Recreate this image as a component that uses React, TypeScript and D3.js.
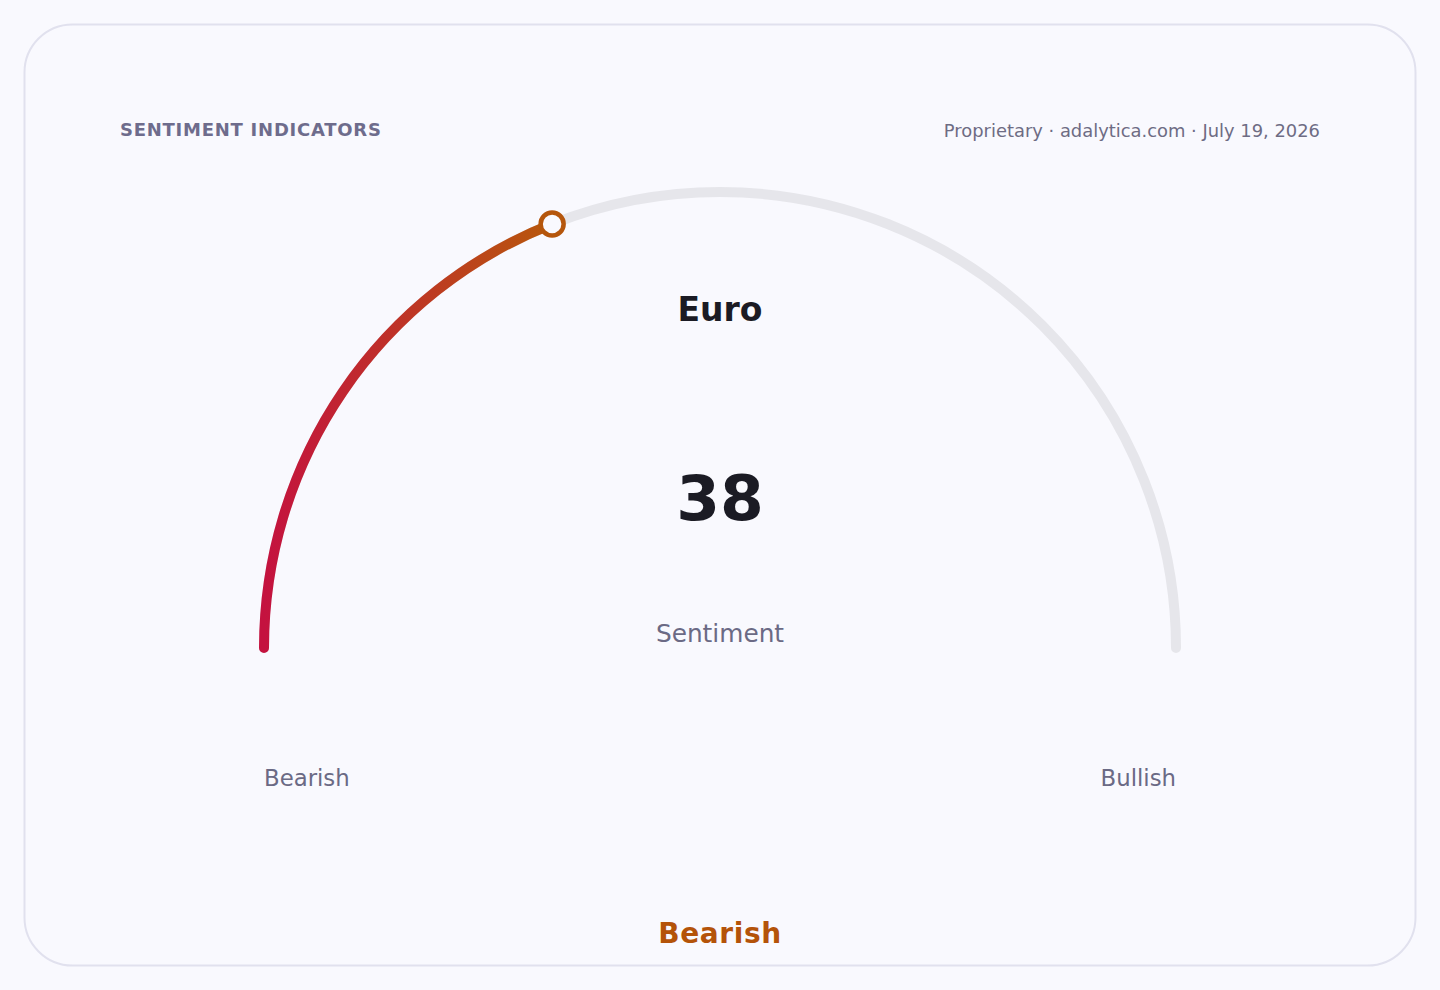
import { useEffect, useRef } from 'react';
import * as d3 from 'd3';

// gauge data
const indicatorName = 'Euro';
const sentimentValue = 38;
const scaleDomain = [0, 100];
const scaleLabels = ['Bearish', 'Bullish'];
const verdict = 'Bearish';
const headerTitle = 'SENTIMENT INDICATORS';
const headerSource = 'Proprietary · adalytica.com · July 19, 2026';

const W = 1440;
const H = 990;

const App = () => {
  const ref = useRef(null);

  useEffect(() => {
    const svg = d3.select(ref.current);
    svg.selectAll('*').remove();

    const cx = 720;
    const cy = 648;
    const r = 456;
    const font = "'DejaVu Sans', sans-serif";

    // card
    svg
      .append('rect')
      .attr('x', 24.5)
      .attr('y', 24.5)
      .attr('width', 1391)
      .attr('height', 941)
      .attr('rx', 48)
      .attr('fill', '#f9f9fe')
      .attr('stroke', '#e1e1ee')
      .attr('stroke-width', 2);

    svg
      .append('text')
      .attr('x', 120)
      .attr('y', 136)
      .style('font', `bold 18px ${font}`)
      .attr('letter-spacing', 0.75)
      .attr('fill', '#6e6c8c')
      .text(headerTitle);

    svg
      .append('text')
      .attr('x', 1320)
      .attr('y', 137)
      .attr('text-anchor', 'end')
      .style('font', `17.9px ${font}`)
      .attr('fill', '#6e6c84')
      .text(headerSource);

    // value -> angle, measured from the left end of the dial
    const angle = d3
      .scaleLinear()
      .domain(scaleDomain)
      .range([Math.PI, 2 * Math.PI]);

    const arcPath = (a0: number, a1: number) => {
      const p = d3.path();
      p.moveTo(cx + r * Math.cos(a0), cy + r * Math.sin(a0));
      p.arc(cx, cy, r, a0, a1, false);
      return p.toString();
    };

    // track
    svg
      .append('path')
      .attr('d', arcPath(angle(scaleDomain[0]), angle(scaleDomain[1])))
      .attr('fill', 'none')
      .attr('stroke', '#e6e6eb')
      .attr('stroke-width', 10)
      .attr('stroke-linecap', 'round');

    const a = angle(sentimentValue);
    const px = cx + r * Math.cos(a);
    const py = cy + r * Math.sin(a);

    const defs = svg.append('defs');
    const grad = defs
      .append('linearGradient')
      .attr('id', 'valGrad')
      .attr('gradientUnits', 'userSpaceOnUse')
      .attr('x1', cx - r)
      .attr('y1', 0)
      .attr('x2', px)
      .attr('y2', 0);
    grad.append('stop').attr('offset', '0%').attr('stop-color', '#c4123f');
    grad.append('stop').attr('offset', '100%').attr('stop-color', '#b8580c');

    svg
      .append('path')
      .attr('d', arcPath(angle(scaleDomain[0]), a))
      .attr('fill', 'none')
      .attr('stroke', 'url(#valGrad)')
      .attr('stroke-width', 10)
      .attr('stroke-linecap', 'round');

    svg
      .append('circle')
      .attr('cx', px)
      .attr('cy', py)
      .attr('r', 11.5)
      .attr('fill', '#f9f9fe')
      .attr('stroke', '#b5560c')
      .attr('stroke-width', 4.5);

    // center texts
    svg
      .append('text')
      .attr('x', cx)
      .attr('y', 321)
      .attr('text-anchor', 'middle')
      .style('font', `bold 33px ${font}`)
      .attr('fill', '#1b1b24')
      .text(indicatorName);

    svg
      .append('text')
      .attr('x', cx)
      .attr('y', 520)
      .attr('text-anchor', 'middle')
      .style('font', `bold 63px ${font}`)
      .attr('fill', '#1b1b24')
      .text(String(sentimentValue));

    svg
      .append('text')
      .attr('x', cx)
      .attr('y', 642)
      .attr('text-anchor', 'middle')
      .style('font', `24.8px ${font}`)
      .attr('fill', '#6b6a85')
      .text('Sentiment');

    svg
      .append('text')
      .attr('x', cx - r)
      .attr('y', 786)
      .style('font', `22.8px ${font}`)
      .attr('fill', '#6b6a85')
      .text(scaleLabels[0]);

    svg
      .append('text')
      .attr('x', cx + r)
      .attr('y', 786)
      .attr('text-anchor', 'end')
      .style('font', `22.8px ${font}`)
      .attr('fill', '#6b6a85')
      .text(scaleLabels[1]);

    svg
      .append('text')
      .attr('x', cx)
      .attr('y', 943)
      .attr('text-anchor', 'middle')
      .style('font', `bold 28px ${font}`)
      .attr('letter-spacing', 0.6)
      .attr('fill', '#b45309')
      .text(verdict);
  }, []);

  return (
    <div
      style={{
        position: 'fixed',
        left: 0,
        top: 0,
        width: W,
        height: H,
        background: '#f9f9fe',
      }}
    >
      <svg width={W} height={H} ref={ref} />
    </div>
  );
};

export default App;
